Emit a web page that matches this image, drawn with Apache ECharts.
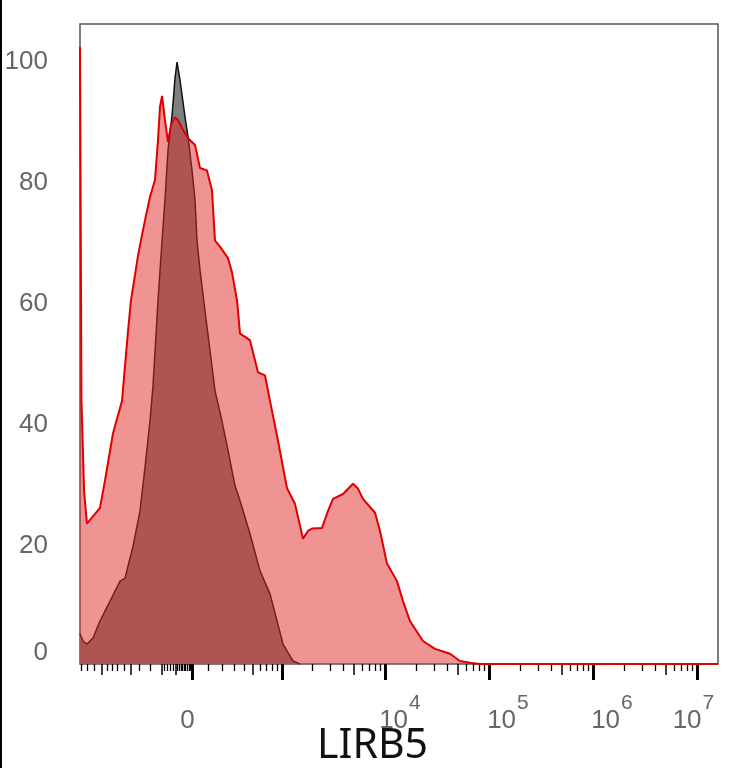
<!DOCTYPE html>
<html>
<head>
<meta charset="utf-8">
<script src="https://cdn.jsdelivr.net/npm/echarts@6.0.0/dist/echarts.min.js"></script>
<style>
html,body{margin:0;padding:0;background:#fff;}
#chart{width:734px;height:768px;}
</style>
</head>
<body>
<div id="chart"></div>
<script>
// ---- data (x in biexponential display units = decades, y in % of max) ----
const redX = [-1.077,-1.063,-1.038,-1.010,-0.885,-0.837,-0.760,-0.673,-0.615,-0.587,-0.519,-0.481,-0.442,-0.404,-0.356,-0.327,-0.308,-0.288,-0.260,-0.231,-0.202,-0.163,-0.135,-0.096,-0.038,0.029,0.077,0.144,0.192,0.221,0.269,0.346,0.385,0.433,0.462,0.519,0.558,0.635,0.702,0.750,0.827,0.913,0.990,1.067,1.115,1.154,1.250,1.308,1.356,1.452,1.548,1.596,1.644,1.760,1.808,1.875,1.971,2.029,2.096,2.221,2.337,2.481,2.577,2.673,2.769,5.058];
const redY = [102.0,43.5,28.6,23.2,25.8,30.3,38.1,43.5,55.1,60.1,67.5,70.9,74.2,77.2,80.0,86.6,92.1,93.9,89.9,86.3,89.1,90.4,89.9,88.6,86.9,85.8,82.0,81.6,78.3,70.0,69.0,67.1,64.7,60.1,54.6,54.0,53.5,48.2,47.7,43.5,36.9,29.1,26.5,20.7,22.0,22.4,22.5,25.3,27.3,28.1,29.8,29.0,27.3,25.0,22.0,16.6,13.7,10.4,7.1,3.8,2.5,1.7,0.5,0.2,0,0];
const blackX = [-1.077,-1.048,-1.010,-0.952,-0.885,-0.788,-0.692,-0.644,-0.567,-0.500,-0.452,-0.404,-0.375,-0.327,-0.288,-0.260,-0.231,-0.192,-0.163,-0.144,-0.115,-0.067,-0.038,0.000,0.029,0.048,0.077,0.125,0.173,0.221,0.288,0.346,0.413,0.462,0.558,0.654,0.750,0.875,0.971,1.038];
const blackY = [5.0,3.8,3.3,4.3,7.1,10.4,13.7,14.2,19.5,25.3,32.5,40.2,46.0,60.1,70.0,76.7,84.9,90.7,96.9,99.5,96.5,90.4,87.1,81.6,76.7,70.0,65.1,58.4,51.8,45.2,40.2,35.3,29.5,27.0,21.5,15.4,11.6,3.3,0.5,0];

// axis ticks / labels (in fluorescence units)
const xLabelValues = [0, 1e4, 1e5, 1e6, 1e7];
const xLabelExponents = [null, 4, 5, 6, 7];
const majorTickValues = [0, 1e3, 1e4, 1e5, 1e6, 1e7];
const midTickValues = [-1000, -500, -200, -100, 500, 5e3, 5e4, 5e5, 5e6];
const minorTickValues = [-1600,-1400,-1200,-900,-800,-700,-600,-400,-300,-180,-160,-140,-120,
  -90,-80,-70,-60,-50,-40,-30,-20,-10,
  100,200,300,400,600,700,800,900,
  2e3,3e3,4e3,6e3,7e3,8e3,9e3,
  2e4,3e4,4e4,6e4,7e4,8e4,9e4,
  2e5,3e5,4e5,6e5,7e5,8e5,9e5,
  2e6,3e6,4e6,6e6,7e6,8e6,9e6];
const yLabelValues = [0, 20, 40, 60, 80, 100];
const xTitle = 'LIRB5';

// biexponential (arcsinh) display transform
const COF = 279;
function toDisplay(v){ return Math.asinh(v / COF) / Math.LN10; }
const X_MIN = -1.077, X_MAX = 5.058, Y_MAX = 105.8;

const gridRect = {left: 80, right: 16, top: 24, bottom: 104};
const labelFont = 'Liberation Sans, Arial, sans-serif';

function tickAxis(gridIndex, values, len, width, showLabels) {
  return {
    type: 'value', gridIndex: gridIndex, min: X_MIN, max: X_MAX, position: 'bottom',
    axisLine: {show: false}, splitLine: {show: false},
    axisTick: {show: true, customValues: values.map(toDisplay), length: len,
      lineStyle: {color: '#000', width: width}},
    axisLabel: showLabels ? undefined : {show: false}
  };
}

const xMain = tickAxis(0, minorTickValues, 7, 1.3, true);
xMain.axisLabel = {
  show: true,
  customValues: xLabelValues.map(toDisplay),
  margin: 28,
  formatter: function (val) {
    let idx = 0, best = 1e9;
    xLabelValues.forEach(function (v, i) {
      const d = Math.abs(toDisplay(v) - val);
      if (d < best) { best = d; idx = i; }
    });
    const e = xLabelExponents[idx];
    if (e === null) return '{z|0}';
    return '{b' + e + '|10}{s' + e + '|' + e + '}';
  },
  rich: (function () {
    const base = {fontSize: 26, lineHeight: 26, color: '#666', fontFamily: labelFont, verticalAlign: 'top'};
    const sup = {fontSize: 21, lineHeight: 21, color: '#666', fontFamily: labelFont, verticalAlign: 'top'};
    const r = {};
    r.z = Object.assign({}, base, {padding: [16, 9, 0, 0]});
    r.b4 = Object.assign({}, base, {padding: [16, 0, 0, 30]});
    r.b5 = Object.assign({}, base, {padding: [16, 0, 0, 38]});
    r.b6 = Object.assign({}, base, {padding: [16, 0, 0, 38]});
    r.b7 = Object.assign({}, base, {padding: [16, 0, 0, 0]});
    r.s4 = Object.assign({}, sup, {padding: [1, 0, 0, 1]});
    r.s5 = Object.assign({}, sup, {padding: [1, 0, 0, 1]});
    r.s6 = Object.assign({}, sup, {padding: [1, 0, 0, 1]});
    r.s7 = Object.assign({}, sup, {padding: [1, 7, 0, 1]});
    return r;
  })()
};

function hiddenY(gridIndex) {
  return {type: 'value', gridIndex: gridIndex, min: 0, max: Y_MAX, show: false};
}

const chart = echarts.init(document.getElementById('chart'), null, {renderer: 'canvas'});
chart.setOption({
  animation: false,
  backgroundColor: '#fff',
  title: {
    text: xTitle, left: 312, top: 721,
    textStyle: {fontFamily: 'Noto Sans', fontSize: 41, fontWeight: 'normal', color: '#111'}
  },
  graphic: [{type: 'rect', left: 0, top: 0, shape: {width: 2, height: 768}, style: {fill: '#000'}}],
  grid: [
    Object.assign({show: true, borderColor: '#555', borderWidth: 1.5, backgroundColor: 'transparent'}, gridRect),
    Object.assign({show: false}, gridRect),
    Object.assign({show: false}, gridRect)
  ],
  xAxis: [
    xMain,
    tickAxis(1, midTickValues, 11, 1.5, false),
    tickAxis(2, majorTickValues, 16, 3, false)
  ],
  yAxis: [
    {
      type: 'value', gridIndex: 0, min: 0, max: Y_MAX,
      axisLine: {show: false}, axisTick: {show: false}, splitLine: {show: false},
      axisLabel: {
        customValues: yLabelValues, margin: 32, color: '#666', fontSize: 26, fontFamily: labelFont,
        formatter: function (v) { return v === 0 ? '{z|0}' : '{n|' + v + '}'; },
        rich: {
          z: {fontSize: 26, color: '#666', fontFamily: labelFont, padding: [0, 0, 22, 0]},
          n: {fontSize: 26, color: '#666', fontFamily: labelFont, padding: [6, 0, 0, 0]}
        }
      }
    },
    hiddenY(1), hiddenY(2)
  ],
  series: [
    {
      name: 'Isotype', type: 'line', xAxisIndex: 0, yAxisIndex: 0, z: 2,
      data: blackX.map(function (x, i) { return [x, blackY[i]]; }),
      symbol: 'none', lineStyle: {color: '#111', width: 1.5},
      areaStyle: {color: '#7f7f7f', opacity: 1}
    },
    {
      name: 'LIRB5', type: 'line', xAxisIndex: 0, yAxisIndex: 0, z: 3,
      data: redX.map(function (x, i) { return [x, redY[i]]; }),
      symbol: 'none', lineStyle: {color: '#e00000', width: 2},
      areaStyle: {color: 'rgba(225,40,40,0.5)', opacity: 1}
    }
  ]
});
</script>
</body>
</html>
